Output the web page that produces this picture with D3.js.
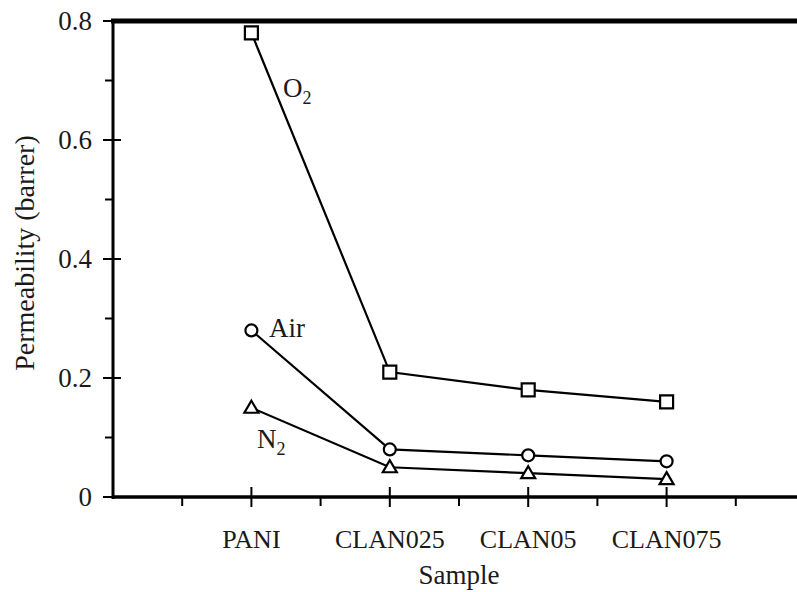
<!DOCTYPE html>
<html>
<head>
<meta charset="utf-8">
<script src="https://cdn.jsdelivr.net/npm/d3@7"></script>
<style>
  body { margin: 0; background: #fff; }
  svg { display: block; }
  text { font-family: "Liberation Serif", "DejaVu Serif", serif; fill: #1a1a1a; }
</style>
</head>
<body>
<svg id="chart" width="797" height="592"></svg>
<script>
// samples on the x axis
var samples = ['PANI', 'CLAN025', 'CLAN05', 'CLAN075'];

// permeability (barrer) per gas
var o2 = [0.78, 0.21, 0.18, 0.16];
var air = [0.28, 0.08, 0.07, 0.06];
var n2 = [0.15, 0.05, 0.04, 0.03];

var yTicks = [0, 0.2, 0.4, 0.6, 0.8];
var yMinor = [0.1, 0.3, 0.5, 0.7];
var xMinor = [-0.5, 0.5, 1.5, 2.5, 3.5];

var svg = d3.select('#chart');

var x = d3.scaleLinear().domain([-1, 4]).range([113, 805]);
var y = d3.scaleLinear().domain([0, 0.8]).range([497, 21]);

var series = [
  {name: 'O2', values: o2, marker: 'square'},
  {name: 'Air', values: air, marker: 'circle'},
  {name: 'N2', values: n2, marker: 'triangle'}
];

// frame: thick top line, left and bottom axes
svg.append('line')
  .attr('x1', x(-1) - 2).attr('x2', 797)
  .attr('y1', y(0.8)).attr('y2', y(0.8))
  .attr('stroke', '#000').attr('stroke-width', 5);

svg.append('line')
  .attr('x1', x(-1)).attr('x2', x(-1))
  .attr('y1', y(0.8)).attr('y2', y(0) + 2)
  .attr('stroke', '#000').attr('stroke-width', 3);

svg.append('line')
  .attr('x1', x(-1) - 1).attr('x2', 797)
  .attr('y1', y(0)).attr('y2', y(0))
  .attr('stroke', '#000').attr('stroke-width', 3.5);

// y ticks
var yg = svg.append('g');
yg.selectAll('.ymaj').data(yTicks).enter().append('line')
  .attr('x1', x(-1) - 10).attr('x2', x(-1) + 8)
  .attr('y1', function(d) { return y(d); })
  .attr('y2', function(d) { return y(d); })
  .attr('stroke', '#000').attr('stroke-width', 2);
yg.selectAll('.ymin').data(yMinor).enter().append('line')
  .attr('x1', x(-1) - 8).attr('x2', x(-1))
  .attr('y1', function(d) { return y(d); })
  .attr('y2', function(d) { return y(d); })
  .attr('stroke', '#000').attr('stroke-width', 2);
yg.selectAll('text').data(yTicks).enter().append('text')
  .attr('x', x(-1) - 21)
  .attr('y', function(d) { return y(d); })
  .attr('dy', '0.35em')
  .attr('text-anchor', 'end')
  .attr('font-size', 27)
  .text(function(d) { return d === 0 ? '0' : d3.format('.1f')(d); });

// x ticks
var xg = svg.append('g');
xg.selectAll('.xmaj').data(samples).enter().append('line')
  .attr('x1', function(d, i) { return x(i); })
  .attr('x2', function(d, i) { return x(i); })
  .attr('y1', y(0) - 10).attr('y2', y(0) + 10)
  .attr('stroke', '#000').attr('stroke-width', 2);
xg.selectAll('.xmin').data(xMinor).enter().append('line')
  .attr('x1', function(d) { return x(d); })
  .attr('x2', function(d) { return x(d); })
  .attr('y1', y(0)).attr('y2', y(0) + 9)
  .attr('stroke', '#000').attr('stroke-width', 2);
xg.selectAll('text').data(samples).enter().append('text')
  .attr('x', function(d, i) { return x(i); })
  .attr('y', 548)
  .attr('text-anchor', 'middle')
  .attr('font-size', 26)
  .text(function(d) { return d; });

// axis titles
svg.append('text')
  .attr('x', x(1.5))
  .attr('y', 584)
  .attr('text-anchor', 'middle')
  .attr('font-size', 27)
  .text('Sample');

svg.append('text')
  .attr('transform', 'translate(34,253) rotate(-90)')
  .attr('text-anchor', 'middle')
  .attr('font-size', 28)
  .text('Permeability (barrer)');

// lines
var line = d3.line()
  .x(function(d, i) { return x(i); })
  .y(function(d) { return y(d); });

svg.selectAll('.series').data(series).enter().append('path')
  .attr('class', 'series')
  .attr('d', function(d) { return line(d.values); })
  .attr('fill', 'none')
  .attr('stroke', '#000')
  .attr('stroke-width', 2.2);

// markers
var markerPath = {
  square: 'M -6.5 -6.5 L 6.5 -6.5 L 6.5 6.5 L -6.5 6.5 Z',
  circle: 'M -6 0 A 6 6 0 1 0 6 0 A 6 6 0 1 0 -6 0 Z',
  triangle: 'M 0 -7 L 7 5 L -7 5 Z'
};

series.forEach(function(s) {
  svg.selectAll('.m-' + s.marker).data(s.values).enter().append('path')
    .attr('class', 'm-' + s.marker)
    .attr('d', markerPath[s.marker])
    .attr('transform', function(d, i) {
      return 'translate(' + x(i) + ',' + y(d) + ')';
    })
    .attr('fill', '#fff')
    .attr('stroke', '#000')
    .attr('stroke-width', 2.2);
});

// series labels
var lab = svg.append('g');
var t1 = lab.append('text').attr('x', 283).attr('y', 97).attr('font-size', 27);
t1.append('tspan').text('O');
t1.append('tspan').attr('font-size', 18).attr('dy', 7).text('2');

lab.append('text').attr('x', 269).attr('y', 337).attr('font-size', 27).text('Air');

var t3 = lab.append('text').attr('x', 257).attr('y', 448).attr('font-size', 27);
t3.append('tspan').text('N');
t3.append('tspan').attr('font-size', 18).attr('dy', 7).text('2');
</script>
</body>
</html>
